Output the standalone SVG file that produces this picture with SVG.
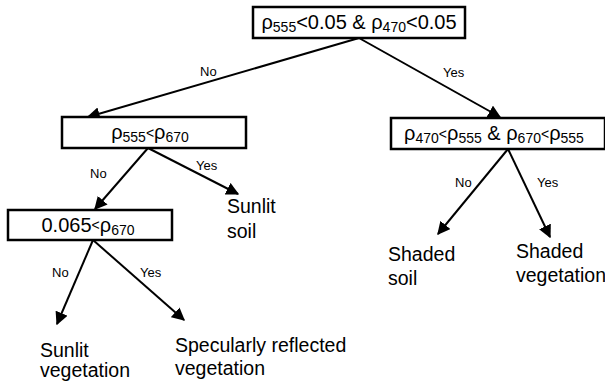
<svg xmlns="http://www.w3.org/2000/svg" width="605" height="381" viewBox="0 0 605 381">
<style>
.box{fill:#fff;stroke:#000;stroke-width:2.5}
.t{font-family:"Liberation Sans",Arial,sans-serif;font-size:20px;fill:#000}
.s{font-size:14px}
.lbl{font-family:"Liberation Sans",Arial,sans-serif;font-size:13px;fill:#000}
.leaf{font-family:"Liberation Sans",Arial,sans-serif;font-size:19.5px;fill:#000}
.c{stroke:#000;stroke-width:2;fill:none;marker-end:url(#ah)}
</style>
<defs>
<marker id="ah" viewBox="0 0 10 10" refX="9" refY="5" markerWidth="6.5" markerHeight="6.5" orient="auto" markerUnits="strokeWidth">
<path d="M0,0 L10,5 L0,10 z" fill="#000"/>
</marker>
</defs>
<rect width="605" height="381" fill="#fff"/>
<g id="connectors">
<line class="c" x1="359" y1="38" x2="88" y2="117"/>
<line class="c" x1="359" y1="38" x2="500" y2="117"/>
<line class="c" x1="148" y1="148" x2="95" y2="209"/>
<line class="c" x1="148" y1="148" x2="238" y2="194"/>
<line class="c" x1="93" y1="240" x2="57" y2="324"/>
<line class="c" x1="93" y1="240" x2="184" y2="320"/>
<line class="c" x1="508" y1="149" x2="438" y2="234"/>
<line class="c" x1="508" y1="149" x2="550" y2="237"/>
<text class="lbl" x="200" y="76">No</text>
<text class="lbl" x="443" y="77">Yes</text>
<text class="lbl" x="90" y="178">No</text>
<text class="lbl" x="196" y="170">Yes</text>
<text class="lbl" x="52" y="277">No</text>
<text class="lbl" x="140" y="277">Yes</text>
<text class="lbl" x="455" y="187">No</text>
<text class="lbl" x="537" y="187">Yes</text>
</g>
<g id="n1">
<rect class="box" x="253" y="7" width="212" height="31"/>
<text class="t" x="359" y="29" text-anchor="middle">ρ<tspan class="s" dy="3">555</tspan><tspan dy="-3">&lt;0.05 &amp; ρ</tspan><tspan class="s" dy="3">470</tspan><tspan dy="-3">&lt;0.05</tspan></text>
</g>
<g id="n2">
<rect class="box" x="62" y="117" width="184" height="31"/>
<text class="t" x="150" y="139" text-anchor="middle">ρ<tspan class="s" dy="3">555</tspan><tspan class="s" dy="-4">&lt;</tspan><tspan dy="1">ρ</tspan><tspan class="s" dy="3">670</tspan></text>
</g>
<g id="n3">
<rect class="box" x="391" y="118" width="214" height="31"/>
<text class="t" x="494" y="140" text-anchor="middle">ρ<tspan class="s" dy="3">470</tspan><tspan class="s" dy="-4">&lt;</tspan><tspan dy="1">ρ</tspan><tspan class="s" dy="3">555</tspan><tspan dy="-3"> &amp; ρ</tspan><tspan class="s" dy="3">670</tspan><tspan class="s" dy="-4">&lt;</tspan><tspan dy="1">ρ</tspan><tspan class="s" dy="3">555</tspan></text>
</g>
<g id="n4">
<rect class="box" x="8" y="210" width="164" height="30"/>
<text class="t" x="88" y="232" text-anchor="middle">0.065<tspan class="s" dy="-2">&lt;</tspan><tspan dy="2">ρ</tspan><tspan class="s" dy="3">670</tspan></text>
</g>
<g id="n5">
<text class="leaf" x="227" y="213">Sunlit</text>
<text class="leaf" x="227" y="238">soil</text>
</g>
<g id="n6">
<text class="leaf" x="40" y="357">Sunlit</text>
<text class="leaf" x="40" y="377">vegetation</text>
</g>
<g id="n7">
<text class="leaf" x="175" y="352">Specularly reflected</text>
<text class="leaf" x="175" y="375">vegetation</text>
</g>
<g id="n8">
<text class="leaf" x="388" y="261">Shaded</text>
<text class="leaf" x="388" y="285">soil</text>
</g>
<g id="n9">
<text class="leaf" x="516" y="258">Shaded</text>
<text class="leaf" x="516" y="282">vegetation</text>
</g>
</svg>
